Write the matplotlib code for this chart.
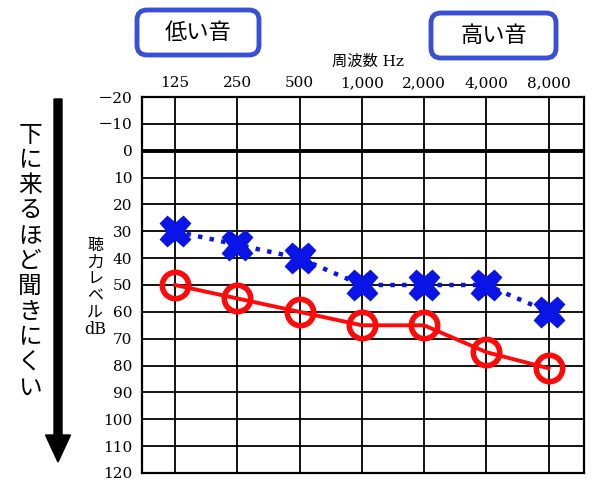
import matplotlib
matplotlib.use('Agg')
import matplotlib.pyplot as plt
from matplotlib.patches import FancyArrow, FancyBboxPatch

# 周波数と聴力レベルのデータ
freqs = ['125', '250', '500', '1,000', '2,000', '4,000', '8,000']
red_db = [50, 55, 60, 65, 65, 75, 81]
blue_db = [30, 35, 40, 50, 50, 50, 60]
db_ticks = list(range(-20, 121, 10))
db_labels = ['－20', '－10'] + [str(v) for v in range(0, 121, 10)]

plt.rcParams['font.family'] = ['DejaVu Serif', 'Noto Sans CJK JP']
jp = ['Noto Sans CJK JP', 'DejaVu Sans']

fig = plt.figure(figsize=(6, 4.88), dpi=100)
ax = fig.add_axes([142 / 600, 1 - 473 / 488, 442 / 600, 376 / 488])

x = list(range(len(freqs)))

# グリッド
for xi in x:
    ax.axvline(xi, color='black', lw=1.3, zorder=1)
for v in db_ticks:
    ax.axhline(v, color='black', lw=2.8 if v == 0 else 1.3, zorder=1)

ax.plot(x, blue_db, color='#0a14e6', ls=':', lw=3.2, marker='X', ms=22,
        mec='#0a14e6', mfc='#0a14e6', zorder=3)
ax.plot(x, red_db, color='#ff0a0a', ls='-', lw=2.8, marker='o', ms=19,
        mfc='none', mec='#ff0a0a', mew=4, zorder=4)

ax.set_xlim(-0.53, 6.57)
ax.set_ylim(120, -20)
ax.xaxis.tick_top()
ax.set_xticks(x)
ax.set_xticklabels(freqs, fontsize=11)
ax.set_yticks(db_ticks)
ax.set_yticklabels(db_labels, fontsize=11)
ax.tick_params(length=0)
ax.tick_params(axis='x', pad=5)
ax.tick_params(axis='y', pad=7)
for s in ax.spines.values():
    s.set_linewidth(1.6)

fig.text(368 / 600, 1 - 62 / 488, '周波数 Hz', ha='center', va='center', fontsize=11)

# 縦書きラベル
for i, ch in enumerate('聴力レベル'):
    fig.text(95 / 600, 1 - (245 + i * 17) / 488, ch, ha='center', va='center',
             fontsize=11.5, family=jp)
fig.text(95 / 600, 1 - 330 / 488, 'dB', ha='center', va='center', fontsize=11.5)

for i, ch in enumerate('下に来るほど聞きにくい'):
    fig.text(30 / 600, 1 - (135 + i * 25.3) / 488, ch, ha='center', va='center',
             fontsize=17, family=jp)

arrow = FancyArrow(0.58, 3.89, 0, -3.63, width=0.08, head_width=0.25, head_length=0.27,
                   length_includes_head=True, color='black', transform=fig.dpi_scale_trans)
fig.add_artist(arrow)

# 低い音・高い音 の枠
for x0, x1, y0, y1, label in [(137, 259, 10, 55, '低い音'), (431, 556, 13, 58, '高い音')]:
    box = FancyBboxPatch((x0 / 100, (488 - y1) / 100), (x1 - x0) / 100, (y1 - y0) / 100,
                         boxstyle='round,pad=0,rounding_size=0.1', fc='white',
                         ec='#3a4fd6', lw=3.5, transform=fig.dpi_scale_trans)
    fig.add_artist(box)
    fig.text((x0 + x1) / 2 / 600, 1 - (y0 + y1) / 2 / 488, label, ha='center',
             va='center', fontsize=16, family=jp)

fig.savefig('out.png', dpi=100)
